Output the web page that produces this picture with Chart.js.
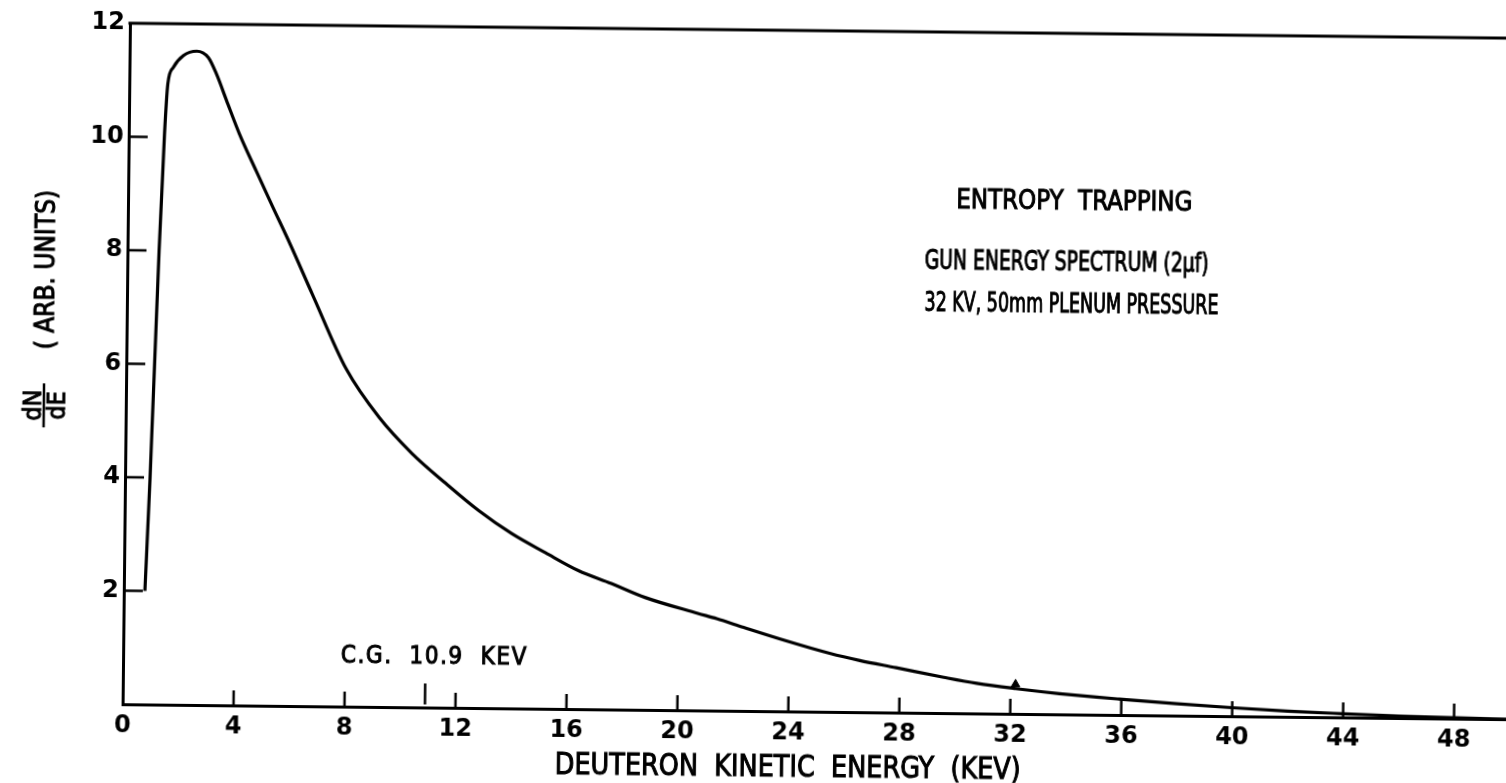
<!DOCTYPE html>
<html>
<head>
<meta charset="utf-8">
<script src="https://cdn.jsdelivr.net/npm/chart.js@4.4.1/dist/chart.umd.min.js"></script>
<style>
  html, body { margin: 0; padding: 0; background: #fff; overflow: hidden; width: 1506px; height: 783px; }
  /* the scan is turned a little clockwise */
  #chart { position: absolute; left: 0; top: 0; transform-origin: 753px 391.5px; transform: rotate(0.62deg); }
</style>
</head>
<body>
<canvas id="chart" width="1519" height="800"></canvas>
<script>
// gun energy spectrum
var energy = [0.76, 0.90, 1.14, 1.29, 1.39, 1.58, 1.94, 2.42, 2.84, 3.14, 3.51, 4.0, 4.61, 5.21, 5.85,
              6.69, 7.93, 9.14, 10.34, 11.57, 12.76, 13.96, 15.18, 16.38, 17.57, 18.79, 20.7, 21.38,
              22.36, 23.84, 25.47, 26.56, 27.87, 29.59, 30.78, 32.18, 33.77, 35.1, 35.93, 38, 40, 42,
              44, 46, 48, 50];
var dNdE = [2.0, 3.95, 8.0, 10.06, 10.94, 11.23, 11.44, 11.52, 11.41, 11.12, 10.66, 10.06, 9.42, 8.80, 8.15,
            7.25, 5.95, 5.10, 4.47, 3.95, 3.48, 3.08, 2.75, 2.44, 2.22, 1.98, 1.71, 1.62,
            1.47, 1.25, 1.03, 0.91, 0.79, 0.63, 0.53, 0.445, 0.365, 0.31, 0.28, 0.21, 0.15, 0.1,
            0.065, 0.035, 0.015, 0];

var xTicks = [0, 4, 8, 12, 16, 20, 24, 28, 32, 36, 40, 44, 48];
var yTicks = [2, 4, 6, 8, 10, 12];

var cgEnergy = 10.9;           // centre of gravity tick
var gunEnergy = [32.18];       // little arrow on the curve
var gunValue = [0.52];

var FONT = "'DejaVu Sans', sans-serif";
var TEXT_FONT = "'DejaVu Sans Condensed', 'DejaVu Sans', sans-serif";

// lettering: book weight with a thin outline, about as heavy as the scan
function capText(ctx, text, x, capY, size, maxW, align, spacing) {
  ctx.font = size + 'px ' + TEXT_FONT;
  ctx.textAlign = align || 'left';
  ctx.textBaseline = 'alphabetic';
  ctx.letterSpacing = spacing || '0px';
  ctx.lineWidth = 1;
  var y = capY + size * 0.3645;
  if (maxW) { ctx.fillText(text, x, y, maxW); ctx.strokeText(text, x, y, maxW); }
  else { ctx.fillText(text, x, y); ctx.strokeText(text, x, y); }
  ctx.letterSpacing = '0px';
}

var frame = {
  id: 'frame',
  afterDraw: function (chart) {
    var ctx = chart.ctx, a = chart.chartArea;
    var sx = chart.scales.x, sy = chart.scales.y;
    ctx.save();
    ctx.strokeStyle = '#000';
    ctx.fillStyle = '#000';
    ctx.lineCap = 'butt';

    // top of the box
    ctx.lineWidth = 3;
    ctx.beginPath();
    ctx.moveTo(a.left - 1.5, a.top);
    ctx.lineTo(a.right, a.top);
    ctx.stroke();

    // ticks point inwards
    ctx.lineWidth = 2.5;
    ctx.beginPath();
    xTicks.forEach(function (v) {
      if (v === 0) return;
      var px = sx.getPixelForValue(v);
      ctx.moveTo(px, a.bottom);
      ctx.lineTo(px, a.bottom - 15);
    });
    yTicks.forEach(function (v) {
      if (v === 12) return;
      var py = sy.getPixelForValue(v);
      ctx.moveTo(a.left, py);
      ctx.lineTo(a.left + 19, py);
    });
    var cg = sx.getPixelForValue(cgEnergy);
    ctx.moveTo(cg, a.bottom - 3);
    ctx.lineTo(cg, a.bottom - 24);
    ctx.stroke();

    // notes
    capText(ctx, 'ENTROPY  TRAPPING', sx.getPixelForValue(29.86), sy.getPixelForValue(9.07), 27, 236);
    capText(ctx, 'GUN ENERGY SPECTRUM (2\u03bcf)', sx.getPixelForValue(28.74), sy.getPixelForValue(7.99), 26, 284);
    capText(ctx, '32 KV, 50mm PLENUM PRESSURE', sx.getPixelForValue(28.75), sy.getPixelForValue(7.25), 26, 294);
    capText(ctx, 'C.G.  10.9  KEV', sx.getPixelForValue(7.85), sy.getPixelForValue(0.94), 25, 187, 'left', '1.6px');

    // x title, centred on the labelled range
    var mid = (sx.getPixelForValue(xTicks[0]) + sx.getPixelForValue(xTicks[xTicks.length - 1])) / 2;
    capText(ctx, 'DEUTERON  KINETIC  ENERGY  (KEV)', mid, a.bottom + 54, 30, 466, 'center');

    // y title: dN/dE ( ARB. UNITS) turned on its side
    ctx.translate(a.left - 82, sy.getPixelForValue(5.25));
    ctx.rotate(-Math.PI / 2);
    capText(ctx, 'dN', 0, -12, 25, 0, 'center');
    capText(ctx, 'dE', 0, 12, 25, 0, 'center');
    ctx.lineWidth = 2.5;
    ctx.beginPath();
    ctx.moveTo(-22, 0);
    ctx.lineTo(22, 0);
    ctx.stroke();
    capText(ctx, '( ARB. UNITS)', 56, 0, 26, 162, 'left');

    ctx.restore();
  }
};

var points = energy.map(function (e, i) { return { x: e, y: dNdE[i] }; });
var gunPoints = gunEnergy.map(function (e, i) { return { x: e, y: gunValue[i] }; });

var chart = new Chart(document.getElementById('chart').getContext('2d'), {
  type: 'line',
  data: {
    datasets: [{
      data: points,
      borderColor: '#000',
      borderWidth: 3.2,
      pointRadius: 0,
      fill: false,
      cubicInterpolationMode: 'monotone'
    }, {
      data: gunPoints,
      showLine: false,
      pointStyle: 'triangle',
      pointRadius: 5,
      backgroundColor: '#000',
      borderColor: '#000'
    }]
  },
  options: {
    responsive: false,
    animation: false,
    devicePixelRatio: 1,
    events: [],
    layout: { padding: { top: 30, right: 0, bottom: 0, left: 0 } },
    plugins: { legend: { display: false }, tooltip: { enabled: false } },
    scales: {
      x: {
        type: 'linear',
        min: 0,
        max: 50,
        afterBuildTicks: function (s) { s.ticks = xTicks.map(function (v) { return { value: v }; }); },
        afterFit: function (s) { s.height = 89; },
        grid: { display: false, drawTicks: false },
        border: { display: true, color: '#000', width: 3 },
        ticks: { color: '#000', padding: 10, font: { family: FONT, size: 24, weight: 'bold', lineHeight: 1 } }
      },
      y: {
        min: 0,
        max: 12,
        afterBuildTicks: function (s) { s.ticks = yTicks.map(function (v) { return { value: v }; }); },
        afterFit: function (s) { s.width = 126; },
        grid: { display: false, drawTicks: false },
        border: { display: true, color: '#000', width: 3 },
        ticks: { color: '#000', padding: 5, font: { family: FONT, size: 24, weight: 'bold', lineHeight: 1 } }
      }
    }
  },
  plugins: [frame]
});
</script>
</body>
</html>
